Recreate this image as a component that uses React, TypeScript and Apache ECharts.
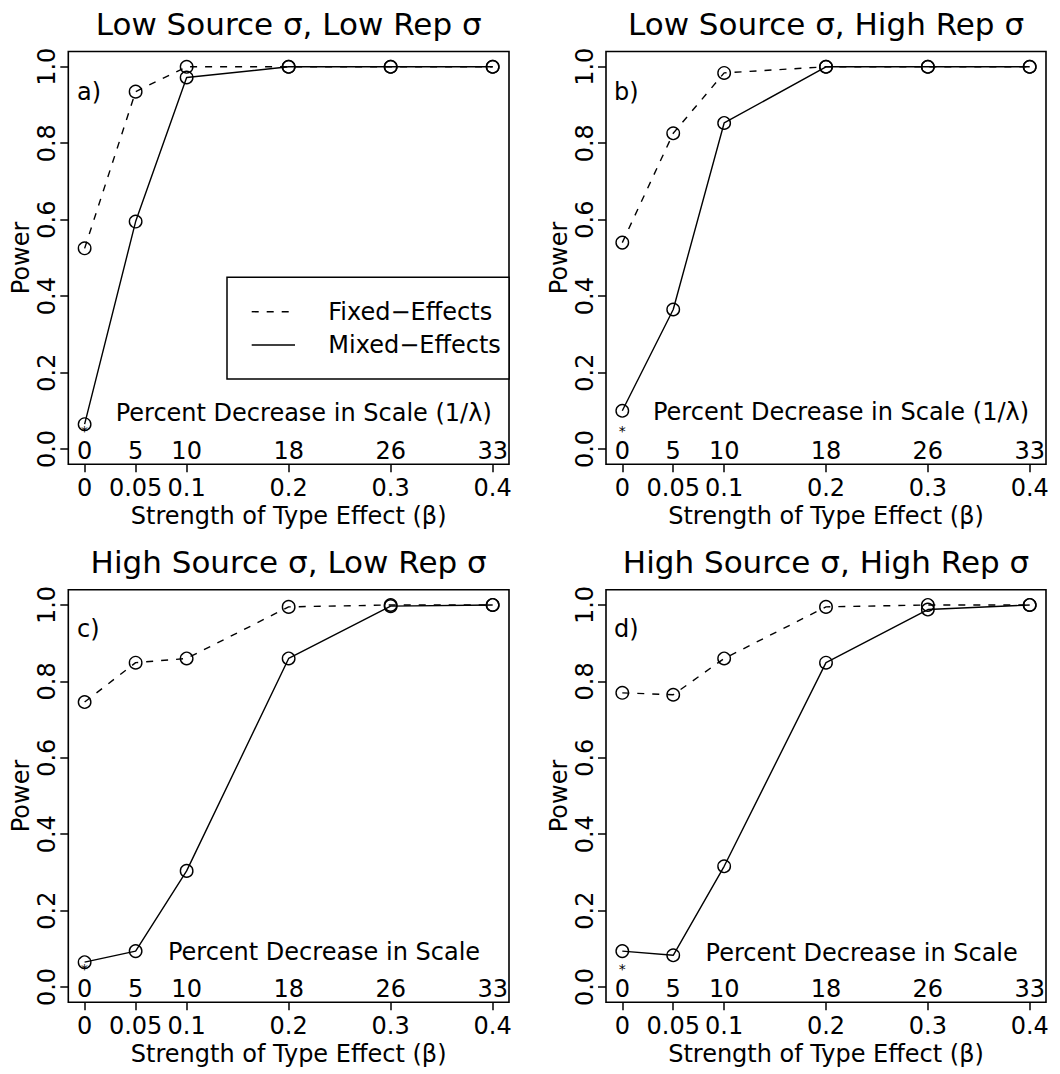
import React, { useEffect, useRef } from "react";
import * as echarts from "echarts";

// ---------- data ----------
const betaValues = [0, 0.05, 0.1, 0.2, 0.3, 0.4];
const betaTickLabels = ["0", "0.05", "0.1", "0.2", "0.3", "0.4"];
const pctDecreaseLabels = ["0", "5", "10", "18", "26", "33"];
const powerTicks = [0, 0.2, 0.4, 0.6, 0.8, 1.0];

const panelTitles = [
  "Low Source σ, Low Rep σ",
  "Low Source σ, High Rep σ",
  "High Source σ, Low Rep σ",
  "High Source σ, High Rep σ",
];
const panelLetters = ["a)", "b)", "c)", "d)"];
const scaleNotes = [
  "Percent Decrease in Scale (1/λ)",
  "Percent Decrease in Scale (1/λ)",
  "Percent Decrease in Scale",
  "Percent Decrease in Scale",
];

const fixedA = [0.525, 0.935, 1.0, 1.0, 1.0, 1.0];
const mixedA = [0.065, 0.595, 0.972, 1.0, 1.0, 1.0];
const fixedB = [0.54, 0.826, 0.984, 1.0, 1.0, 1.0];
const mixedB = [0.1, 0.365, 0.853, 1.0, 1.0, 1.0];
const fixedC = [0.746, 0.849, 0.86, 0.995, 1.0, 1.0];
const mixedC = [0.065, 0.094, 0.304, 0.86, 0.997, 1.0];
const fixedD = [0.77, 0.765, 0.86, 0.995, 1.0, 1.0];
const mixedD = [0.094, 0.083, 0.316, 0.849, 0.988, 1.0];

const fixedSeries = [fixedA, fixedB, fixedC, fixedD];
const mixedSeries = [mixedA, mixedB, mixedC, mixedD];
const legendNames = ["Fixed−Effects", "Mixed−Effects"];
const asteriskPoint = [0, 0.048];

// ---------- layout / style ----------
const FONT = "DejaVu Sans";
const grids = [
  { left: 68.3, top: 51.5, width: 440.7, height: 412.8 },
  { left: 606, top: 51.5, width: 440, height: 412.8 },
  { left: 68.3, top: 589.7, width: 440.7, height: 412.6 },
  { left: 606, top: 589.7, width: 440, height: 412.6 },
];
const noteCenters = [
  [303.7, 413],
  [841, 412],
  [324, 952],
  [861.7, 953],
];
const letterPos = [
  [77, 92],
  [614, 92],
  [77, 629],
  [614, 629],
];

const plainLabel = {
  fontFamily: FONT,
  color: "#000",
  opacity: 1,
  textBorderWidth: 0,
  textBorderColor: "transparent",
  textShadowBlur: 0,
};

export default function App() {
  const ref = useRef<HTMLDivElement>(null);

  useEffect(() => {
    if (!ref.current) return;
    const chart = echarts.init(ref.current, undefined, { renderer: "svg" });

    const xAxis: any[] = [];
    const yAxis: any[] = [];
    const series: any[] = [];
    const graphic: any[] = [];

    grids.forEach((g, i) => {
      xAxis.push({
        gridIndex: i,
        type: "value",
        position: "bottom",
        min: -0.016,
        max: 0.416,
        axisLine: { show: false, onZero: false },
        splitLine: { show: false },
        axisTick: {
          show: true,
          customValues: betaValues,
          length: 8,
          lineStyle: { color: "#000", width: 1.5 },
        },
        axisLabel: {
          customValues: betaValues,
          formatter: (v: number) => betaTickLabels[betaValues.indexOf(v)] ?? String(v),
          fontFamily: FONT,
          fontSize: 24,
          color: "#000",
          margin: 12,
        },
        name: "Strength of Type Effect (β)",
        nameLocation: "middle",
        nameGap: 40,
        nameTextStyle: { fontFamily: FONT, fontSize: 24, color: "#000" },
      });
      yAxis.push({
        gridIndex: i,
        type: "value",
        position: "left",
        min: -0.04,
        max: 1.04,
        axisLine: { show: false, onZero: false },
        splitLine: { show: false },
        axisTick: {
          show: true,
          customValues: powerTicks,
          length: 8,
          lineStyle: { color: "#000", width: 1.5 },
        },
        axisLabel: {
          customValues: powerTicks,
          rotate: 90,
          formatter: (v: number) => v.toFixed(1),
          fontFamily: FONT,
          fontSize: 24,
          color: "#000",
          margin: 9,
        },
        name: "Power",
        nameLocation: "middle",
        nameGap: 35,
        nameRotate: 90,
        nameTextStyle: { fontFamily: FONT, fontSize: 24, color: "#000" },
      });

      const lineBase = {
        type: "line",
        xAxisIndex: i,
        yAxisIndex: i,
        symbol: "circle",
        symbolSize: 12.5,
        showSymbol: true,
        silent: true,
        clip: false,
        itemStyle: { color: "rgba(0,0,0,0)", borderColor: "#000", borderWidth: 1.4 },
        emphasis: { disabled: true },
      };
      series.push({
        ...lineBase,
        name: legendNames[0],
        data: betaValues.map((x, j) => [x, fixedSeries[i][j]]),
        lineStyle: { color: "#000", width: 1.4, type: [7, 8] },
      });
      series.push({
        ...lineBase,
        name: legendNames[1],
        data: betaValues.map((x, j) => [x, mixedSeries[i][j]]),
        lineStyle: { color: "#000", width: 1.4, type: "solid" },
      });
      // inner secondary scale labels (percent decrease)
      series.push({
        type: "scatter",
        xAxisIndex: i,
        yAxisIndex: i,
        silent: true,
        symbolSize: 1,
        itemStyle: { color: "rgba(0,0,0,0)", opacity: 1 },
        data: betaValues.map((x) => [x, 0]),
        label: {
          show: true,
          position: "inside",
          offset: [0, 2],
          formatter: (p: any) => pctDecreaseLabels[p.dataIndex],
          fontSize: 24,
          ...plainLabel,
        },
      });
      // asterisk
      series.push({
        type: "scatter",
        xAxisIndex: i,
        yAxisIndex: i,
        silent: true,
        symbolSize: 1,
        z: 1,
        itemStyle: { color: "rgba(0,0,0,0)", opacity: 1 },
        data: [asteriskPoint],
        label: {
          show: true,
          position: "inside",
          formatter: "*",
          fontSize: 14,
          lineHeight: 14,
          ...plainLabel,
        },
      });

      // title
      graphic.push({
        type: "text",
        x: g.left + g.width / 2,
        y: 24 + (i >= 2 ? 538.2 : 0),
        style: {
          text: panelTitles[i],
          fill: "#000",
          font: `31px "${FONT}"`,
          align: "center",
          verticalAlign: "middle",
        },
      });
      graphic.push({
        type: "text",
        x: letterPos[i][0],
        y: letterPos[i][1],
        style: {
          text: panelLetters[i],
          fill: "#000",
          font: `24px "${FONT}"`,
          align: "left",
          verticalAlign: "middle",
        },
      });
      graphic.push({
        type: "text",
        x: noteCenters[i][0],
        y: noteCenters[i][1],
        style: {
          text: scaleNotes[i],
          fill: "#000",
          font: `24px "${FONT}"`,
          align: "center",
          verticalAlign: "middle",
        },
      });
    });

    // legend in panel a
    graphic.push({
      type: "rect",
      shape: { x: 227, y: 277.3, width: 282, height: 101.7 },
      style: { fill: "#fff", stroke: "#000", lineWidth: 1.5 },
      z: 10,
    });
    graphic.push({
      type: "line",
      shape: { x1: 251.7, y1: 311.7, x2: 295, y2: 311.7 },
      style: { stroke: "#000", lineWidth: 1.4, lineDash: [7, 8] },
      z: 11,
    });
    graphic.push({
      type: "line",
      shape: { x1: 251.7, y1: 345, x2: 295, y2: 345 },
      style: { stroke: "#000", lineWidth: 1.4 },
      z: 11,
    });
    legendNames.forEach((n, k) => {
      graphic.push({
        type: "text",
        x: 328.3,
        y: 311.5 + k * 33.5,
        z: 11,
        style: {
          text: n,
          fill: "#000",
          font: `24px "${FONT}"`,
          align: "left",
          verticalAlign: "middle",
        },
      });
    });

    chart.setOption({
      animation: false,
      backgroundColor: "#fff",
      grid: grids.map((g) => ({
        ...g,
        show: true,
        borderColor: "#000",
        borderWidth: 1.6,
        backgroundColor: "rgba(0,0,0,0)",
        containLabel: false,
      })),
      xAxis,
      yAxis,
      series,
      graphic,
    });

    return () => chart.dispose();
  }, []);

  return (
    <div
      ref={ref}
      style={{ position: "absolute", left: 0, top: 0, width: 1060, height: 1074 }}
    />
  );
}
